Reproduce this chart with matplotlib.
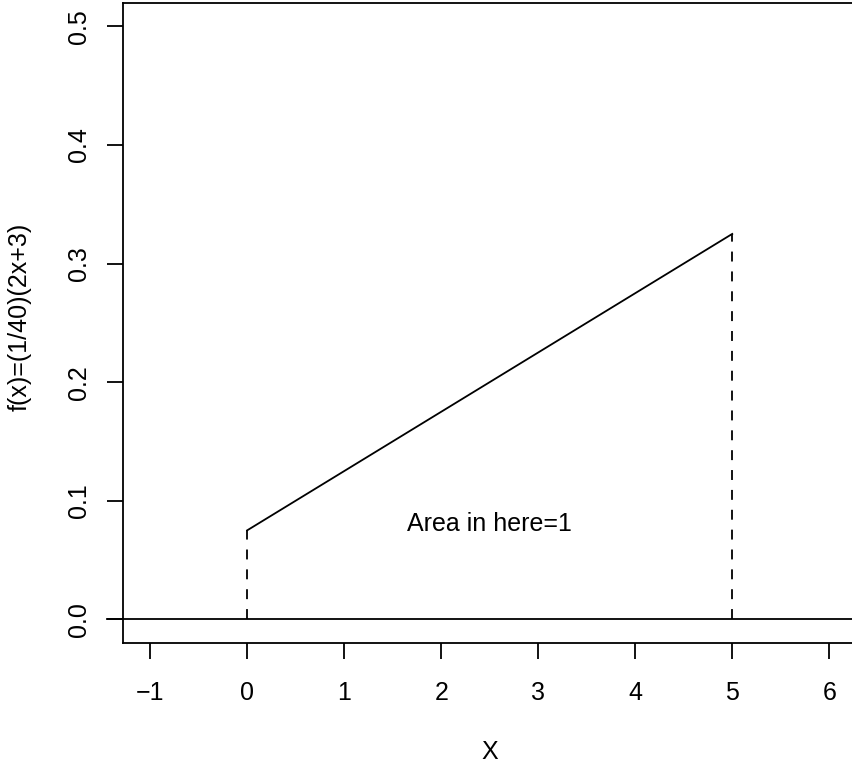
import matplotlib
matplotlib.use("Agg")
import matplotlib.pyplot as plt
import numpy as np

plt.rcParams['font.family'] = ['Liberation Sans', 'DejaVu Sans']

# Data
x_ends = [0, 5]
f_vals = [(1/40)*(2*x + 3) for x in x_ends]  # 0.075, 0.325
xticks = [-1, 0, 1, 2, 3, 4, 5, 6]
yticks = [0.0, 0.1, 0.2, 0.3, 0.4, 0.5]
ytick_labels = ["0.0", "0.1", "0.2", "0.3", "0.4", "0.5"]
annot_text = "Area in here=1"
annot_pos = (2.5, 0.08)
xlabel = "X"
ylabel = "f(x)=(1/40)(2x+3)"

W, H = 852, 765
fig = plt.figure(figsize=(W/100, H/100), dpi=100)
left, right, top, bottom = 123, 856.4, 2.7, 643
ax = fig.add_axes([left/W, (H-bottom)/H, (right-left)/W, (bottom-top)/H])
ax.set_xlim(-1.28, 6.28)
ax.set_ylim(-0.02, 0.52)

lw = 1.3
ax.plot(x_ends, f_vals, color='black', lw=lw)
for xe, fv in zip(x_ends, f_vals):
    ax.plot([xe, xe], [0, fv], color='black', lw=lw, linestyle=(0, (5.5, 5.5)))
ax.plot([-1.44, 7.0], [0, 0], color='black', lw=lw, clip_on=False)

ax.text(annot_pos[0], annot_pos[1], annot_text, fontsize=18, ha='center', va='center')

ax.set_xticks(xticks)
ax.set_xticklabels([("\u22121" if t == -1 else str(t)) for t in xticks], fontsize=18)
ax.set_yticks(yticks)
ax.set_yticklabels(ytick_labels, fontsize=18, rotation=90, va='center')
ax.tick_params(axis='both', length=11.5, width=lw, color='black')
ax.tick_params(axis='x', pad=16)
ax.tick_params(axis='y', pad=11.5)
for sp in ax.spines.values():
    sp.set_linewidth(lw)

fig.text(489.5/W, 1-752/H, xlabel, fontsize=18, ha='center', va='center')
fig.text(20/W, 1-317/H, ylabel, fontsize=18, ha='center', va='center', rotation=90)

fig.savefig("out.png", dpi=100)
